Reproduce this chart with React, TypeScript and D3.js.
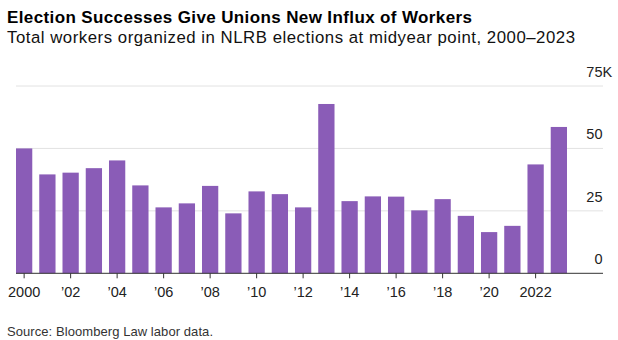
import React from "react";
import * as d3 from "d3";

const years = [2000, 2001, 2002, 2003, 2004, 2005, 2006, 2007, 2008, 2009, 2010, 2011, 2012, 2013, 2014, 2015, 2016, 2017, 2018, 2019, 2020, 2021, 2022, 2023];
const workers = [50.0, 39.6, 40.3, 42.1, 45.2, 35.2, 26.4, 28.0, 35.0, 24.0, 32.8, 31.7, 26.4, 67.8, 28.9, 30.8, 30.7, 25.2, 29.7, 23.0, 16.5, 19.0, 43.6, 58.6];
const yTicks = [0, 25, 50, 75];
const xTickYears = [2000, 2002, 2004, 2006, 2008, 2010, 2012, 2014, 2016, 2018, 2020, 2022];

const title = "Election Successes Give Unions New Influx of Workers";
const subtitle = "Total workers organized in NLRB elections at midyear point, 2000\u20132023";
const source = "Source: Bloomberg Law labor data.";

const W = 618;
const H = 340;
const FONT = "'Liberation Sans', Arial, Helvetica, sans-serif";

function xLabel(y: number) {
  if (y === 2000 || y === 2022) return String(y);
  return "\u2019" + String(y).slice(2);
}

export default function App() {
  const x = d3
    .scaleBand<number>()
    .domain(years)
    .range([16, 567])
    .paddingInner(0.3)
    .paddingOuter(0);
  const y = d3.scaleLinear().domain([0, 75]).range([273.3, 86]);
  const gridX0 = 16;
  const gridX1 = 603;
  const labelX = 602.5;

  return (
    <svg
      width={W}
      height={H}
      style={{ position: "absolute", left: 0, top: 0, background: "#fff" }}
      fontFamily={FONT}
    >
      <text x={7} y={22.5} fontSize={17} fontWeight="bold" fill="#000" textLength={465} lengthAdjust="spacing">
        {title}
      </text>
      <text x={7} y={43.3} fontSize={16.8} fill="#111" textLength={568} lengthAdjust="spacing">
        {subtitle}
      </text>

      {yTicks.filter((t) => t > 0).map((t) => (
        <line key={"g" + t} x1={gridX0} x2={gridX1} y1={y(t)} y2={y(t)} stroke="#e2e2e2" strokeWidth={1} />
      ))}

      {years.map((yr, i) => (
        <rect
          key={yr}
          x={x(yr)}
          y={y(workers[i])}
          width={x.bandwidth()}
          height={y(0) - y(workers[i])}
          fill="#8a5cb7"
        />
      ))}

      <line x1={gridX0} x2={gridX1} y1={y(0)} y2={y(0)} stroke="#333" strokeWidth={1} />

      {yTicks.map((t) => (
        <g key={"yl" + t}>
          <text x={labelX} y={y(t) - 9} fontSize={14.5} textAnchor="end" fill="#222">
            {t}
          </text>
          {t === 75 && (
            <text x={labelX} y={y(t) - 9} fontSize={14.5} textAnchor="start" fill="#222">
              K
            </text>
          )}
        </g>
      ))}

      {xTickYears.map((yr) => {
        const cx = (x(yr) as number) + x.bandwidth() / 2;
        return (
          <g key={"xt" + yr}>
            <line x1={cx} x2={cx} y1={y(0)} y2={y(0) + 5} stroke="#333" strokeWidth={1} />
            <text x={cx} y={296.7} fontSize={14.5} textAnchor="middle" fill="#222">
              {xLabel(yr)}
            </text>
          </g>
        );
      })}

      <text x={7} y={335.5} fontSize={13} fill="#333" textLength={206} lengthAdjust="spacing">
        {source}
      </text>
    </svg>
  );
}
